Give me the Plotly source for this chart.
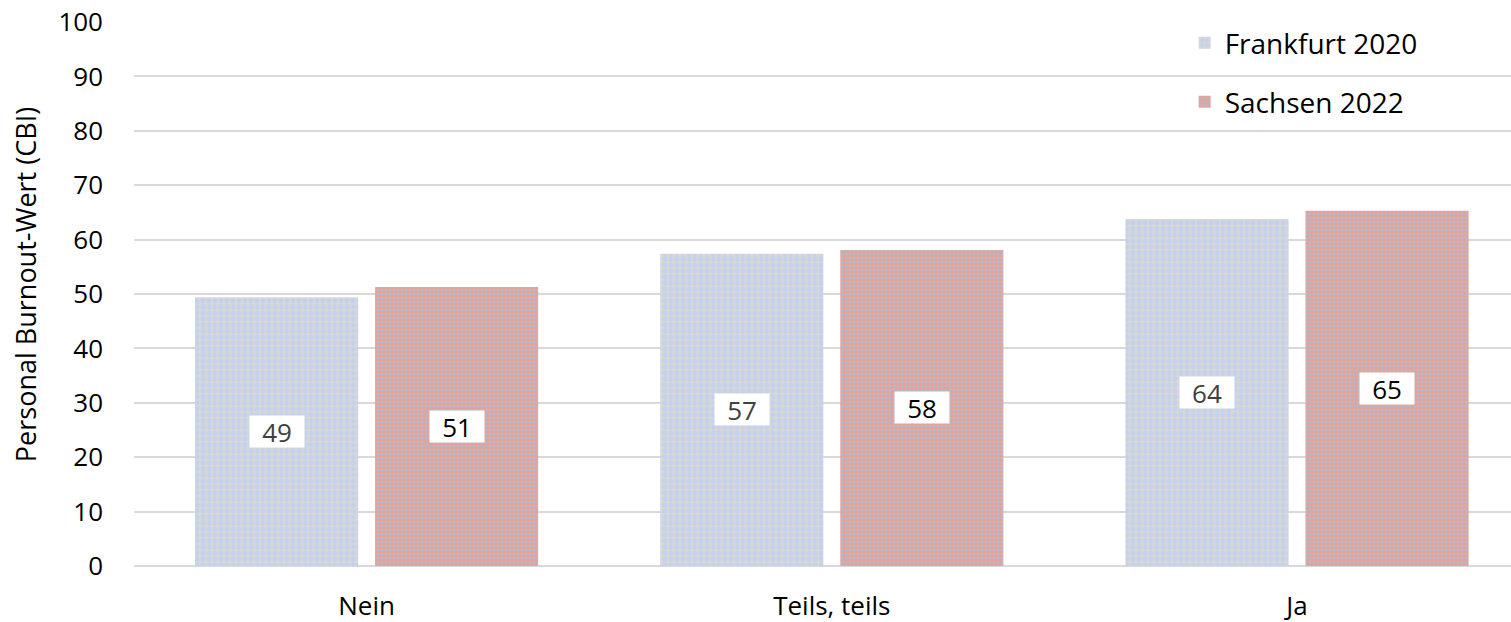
import plotly.graph_objects as go

categories = ["Nein", "Teils, teils", "Ja"]
frankfurt_2020 = [49.4, 57.4, 63.8]
sachsen_2022 = [51.3, 58.1, 65.3]
series_names = ["Frankfurt 2020", "Sachsen 2022"]
y_ticks = list(range(0, 101, 10))
y_title = "Personal Burnout-Wert (CBI)"

FONT = "Open Sans"
BARGAP = 0.226
GROUPGAP = 0.094

fig = go.Figure()

fig.add_trace(go.Bar(
    x=categories, y=frankfurt_2020, name=series_names[0], legend="legend",
    marker=dict(
        color="#d6d8dc",
        line=dict(width=0),
        pattern=dict(shape=".", fgcolor="#c2d2ee", bgcolor="#d7d7d7",
                     size=6, solidity=0.5, fillmode="replace"),
    ),
    hoverinfo="skip",
))
fig.add_trace(go.Bar(
    x=categories, y=sachsen_2022, name=series_names[1], legend="legend2",
    marker=dict(
        color="#d5a9a4",
        line=dict(width=0),
        pattern=dict(shape=".", fgcolor="#eba08e", bgcolor="#bdb4c4",
                     size=4, solidity=0.5, fillmode="replace"),
    ),
    hoverinfo="skip",
))

# value labels in white boxes, centred inside each bar
slot = (1 - BARGAP) / 2
for series, col, sign in ((frankfurt_2020, "#404040", -1), (sachsen_2022, "#000000", 1)):
    for i, v in enumerate(series):
        fig.add_annotation(
            x=i + sign * slot / 2, y=v / 2, xref="x", yref="y",
            text=f"{v:.0f}", showarrow=False,
            font=dict(family=FONT, size=26, color=col),
            bgcolor="white", borderpad=2, width=50, height=27,
        )

# rotated y-axis title
fig.add_annotation(
    x=-0.0792, y=0.518, xref="paper", yref="paper",
    xanchor="center", yanchor="middle", textangle=-90,
    text=y_title, showarrow=False,
    font=dict(family=FONT, size=27, color="#000000"),
)

legend_style = dict(xanchor="left", yanchor="middle", bgcolor="rgba(0,0,0,0)",
                    font=dict(family=FONT, size=28, color="#000000"), itemwidth=30)

fig.update_layout(
    width=1511, height=622,
    margin=dict(l=134, r=0, t=22, b=56),
    paper_bgcolor="white", plot_bgcolor="white",
    barmode="group", bargap=BARGAP, bargroupgap=GROUPGAP,
    font=dict(family=FONT, size=26, color="#000000"),
    showlegend=True,
    legend=dict(x=0.763, y=0.9614, **legend_style),
    legend2=dict(x=0.763, y=0.853, **legend_style),
    xaxis=dict(
        type="category", range=[-0.5, 2.46],
        showgrid=False, showline=False, ticks="",
        tickfont=dict(family=FONT, size=26, color="#000000"), ticklabelstandoff=22,
    ),
    yaxis=dict(
        range=[0, 100], tickvals=y_ticks,
        showgrid=True, gridcolor="#d9d9d9", gridwidth=2,
        zeroline=True, zerolinecolor="#d9d9d9", zerolinewidth=2,
        showline=False, ticks="",
        tickfont=dict(family=FONT, size=26, color="#000000"), ticklabelstandoff=30,
    ),
)

fig.write_html("out.html")
